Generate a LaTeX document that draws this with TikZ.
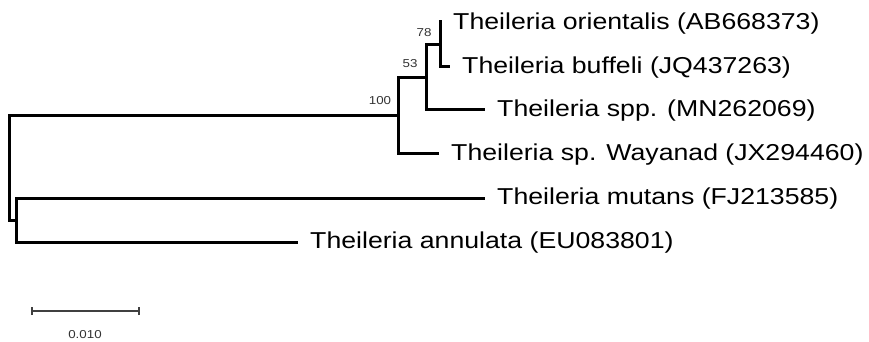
\documentclass[tikz,border=0pt]{standalone}
\usepackage{fontspec}
\setmainfont{Liberation Sans}
\newcommand{\stretchtxt}[1]{\scalebox{1.16}[1]{#1}}
\begin{document}
\begin{tikzpicture}[x=1pt,y=-1pt,
  branch/.style={line width=3pt,line cap=rect,line join=miter},
  taxon/.style={anchor=west,inner sep=0pt,yshift=-1.5pt,font=\fontsize{23}{26}\selectfont},
  boot/.style={inner sep=0pt,font=\fontsize{11.5}{13}\selectfont,text=black!80},
  scalebar/.style={line width=1.4pt,draw=black!75}]
\useasboundingbox (0,0) rectangle (869,342);
% internal nodes
\coordinate (root) at (9,168);
\coordinate (rA) at (9,116);
\coordinate (rB) at (9,220);
\coordinate (n100) at (398,116);
\coordinate (n53) at (426,78);
\coordinate (n78) at (440,45);
\coordinate (nB) at (16,220);
% tips
\coordinate (tOri) at (440,22);
\coordinate (tBuf) at (448,67);
\coordinate (tSpp) at (483,110);
\coordinate (tWay) at (437,153);
\coordinate (tMut) at (483,198);
\coordinate (tAnn) at (296,242);
% labels
\node[taxon] (lOri) at (453,22) {\stretchtxt{Theileria orientalis (AB668373)}};
\node[taxon] (lBuf) at (462,66) {\stretchtxt{Theileria buffeli (JQ437263)}};
\node[taxon] (lSpp) at (497,109) {\stretchtxt{Theileria spp. (MN262069)}};
\node[taxon] (lWay) at (451,153) {\stretchtxt{Theileria sp. Wayanad (JX294460)}};
\node[taxon] (lMut) at (497,197) {\stretchtxt{Theileria mutans (FJ213585)}};
\node[taxon] (lAnn) at (310,241) {\stretchtxt{Theileria annulata (EU083801)}};
% branches
\draw[branch] (rA) -- (rB);
\draw[branch] (rA) -- (n100);
\draw[branch] (rB) -- (nB);
\draw[branch] (n100) |- (n53);
\draw[branch] (n100) |- (tWay);
\draw[branch] (n53) |- (n78);
\draw[branch] (n53) |- (tSpp);
\draw[branch] (n78) |- (tOri);
\draw[branch] (n78) |- (tBuf);
\draw[branch] (nB) |- (tMut);
\draw[branch] (nB) |- (tAnn);
% bootstrap values
\node[boot] (b78) at (424,33) {\stretchtxt{78}};
\node[boot] (b53) at (410,64) {\stretchtxt{53}};
\node[boot] (b100) at (380,101) {\stretchtxt{100}};
% scale bar
\coordinate (sL) at (32,311);
\coordinate (sR) at (139,311);
\draw[scalebar] (sL) -- (sR);
\draw[scalebar] ([yshift=-4pt]sL) -- ([yshift=4pt]sL);
\draw[scalebar] ([yshift=-4pt]sR) -- ([yshift=4pt]sR);
\node[boot] (sLab) at (85,335) {\stretchtxt{0.010}};
\end{tikzpicture}
\end{document}
